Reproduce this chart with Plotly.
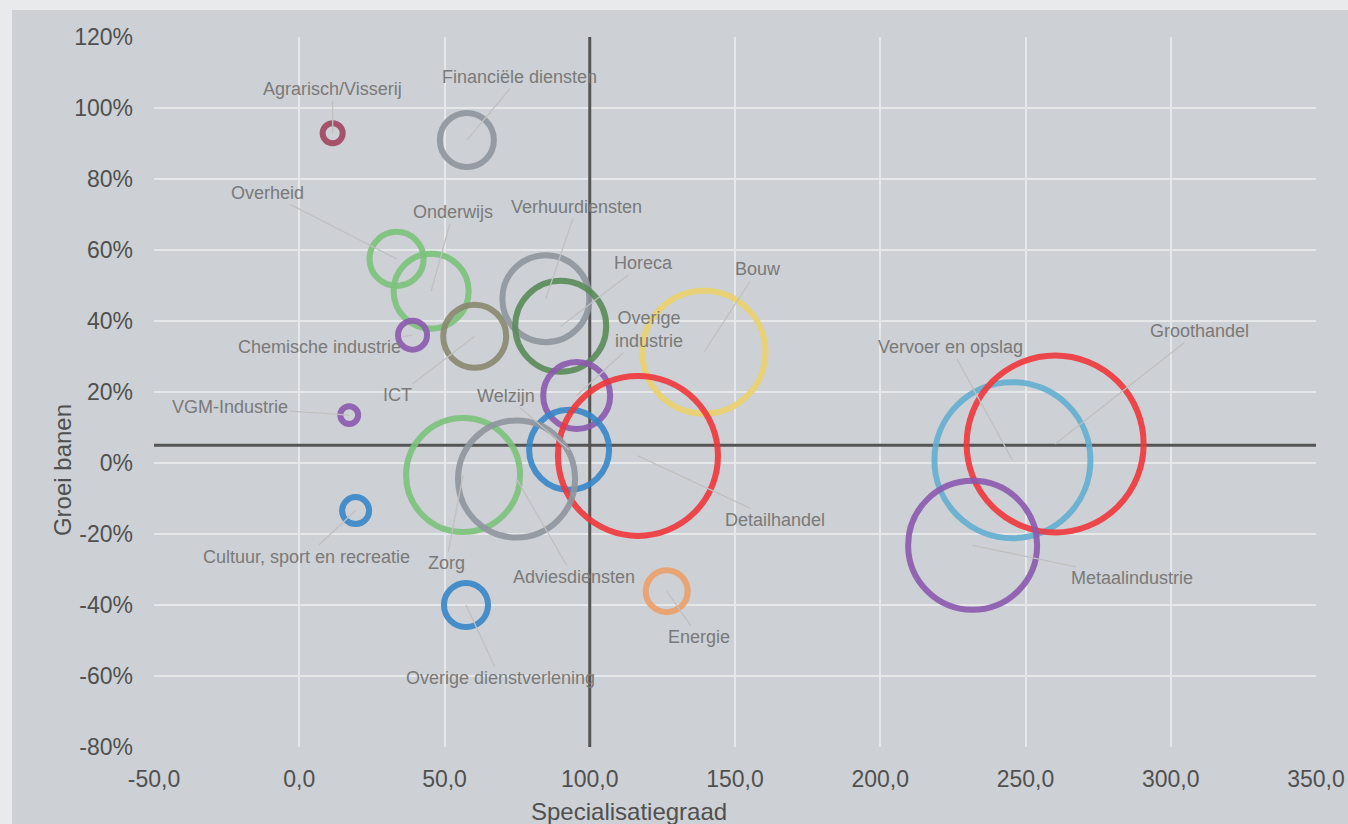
import math
import plotly.graph_objects as go

# ---------------- data ----------------
sectors = [
    "Agrarisch/Visserij", "Financiële diensten", "Overheid", "Onderwijs",
    "Chemische industrie", "ICT", "Verhuurdiensten", "Horeca",
    "Overige<br>industrie", "Welzijn", "Bouw", "Detailhandel", "Zorg",
    "Adviesdiensten", "VGM-Industrie", "Cultuur, sport en recreatie",
    "Overige dienstverlening", "Energie", "Vervoer en opslag",
    "Groothandel", "Metaalindustrie",
]
specialisatiegraad = [11.5, 57.7, 33.5, 45.4, 39.0, 60.4, 84.9, 90.0,
                      95.5, 92.9, 139.3, 116.6, 56.4, 74.8, 17.2, 19.4,
                      57.4, 126.5, 245.5, 260.2, 231.8]
groei_banen = [92.9, 91.0, 57.5, 48.4, 36.0, 35.7, 46.3, 38.5,
               19.0, 3.7, 31.2, 2.0, -3.4, -4.5, 13.5, -13.4,
               -40.0, -36.1, 0.8, 5.35, -23.2]
banen = [4.0, 29.2, 29.2, 56.3, 8.4, 39.7, 75.7, 82.8,
         44.9, 64.0, 151.3, 256.0, 130.0, 136.9, 3.2, 7.3,
         19.4, 17.6, 243.4, 313.3, 166.4]

x_ticks = [-50, 0, 50, 100, 150, 200, 250, 300, 350]
x_ticktext = ["-50,0", "0,0", "50,0", "100,0", "150,0", "200,0", "250,0", "300,0", "350,0"]
y_ticks = [-80, -60, -40, -20, 0, 20, 40, 60, 80, 100, 120]
y_ticktext = ["-80%", "-60%", "-40%", "-20%", "0%", "20%", "40%", "60%", "80%", "100%", "120%"]

ref_x = 100   # specialisatiegraad reference
ref_y = 5     # average job growth reference

# ---------------- styles ----------------
colors = ["#a0465f", "#8f969e", "#7cc27c", "#7cc27c", "#8c5aaf", "#8a8870",
          "#8f969e", "#5a8c5a", "#8c5aaf", "#3787c8", "#ebd26e", "#f0373c",
          "#7cc27c", "#8f969e", "#8c5aaf", "#3787c8", "#3787c8", "#eba069",
          "#64afd2", "#f0373c", "#8c5aaf"]
# label offsets in pixels (text centre relative to bubble centre)
label_dx = [0, 53, -129, 22, -93, -77, 31, 83, 72, -63, 54, 137, -17, 57,
            -119, -49, 34, 32, -62, 144, 159]
label_dy = [-44, -63, -66, -79, 12, 59, -92, -63, -66, -54, -83, 64, 88, 98,
            -8, 46, 73, 46, -113, -113, 33]

SIZE_SCALE = 10.0
sizes = [SIZE_SCALE * math.sqrt(v) for v in banen]

FONT = "Arial, Liberation Sans, Helvetica, sans-serif"
PANEL = "#cdd0d4"
OUTER = "#e9eaec"

fig = go.Figure()
fig.add_trace(go.Scatter(
    x=specialisatiegraad, y=groei_banen, mode="markers",
    text=sectors, hoverinfo="text",
    marker=dict(size=sizes, sizemode="diameter", color="rgba(0,0,0,0)",
                opacity=0.9, line=dict(color=colors, width=6)),
    showlegend=False,
))

annotations = []
for name, xv, yv, dx, dy in zip(sectors, specialisatiegraad, groei_banen, label_dx, label_dy):
    annotations.append(dict(
        x=xv, y=yv, xref="x", yref="y", text=name, showarrow=True,
        arrowhead=0, arrowwidth=1.3, arrowcolor="#c0c0c0", ax=dx, ay=dy,
        standoff=0, startstandoff=0,
        font=dict(family=FONT, size=18, color="#7a7a7a"), align="center",
    ))

annotations.append(dict(text="Specialisatiegraad", xref="paper", yref="paper",
                        x=0.4088, y=-0.0915, showarrow=False, xanchor="center", yanchor="middle",
                        font=dict(family=FONT, size=24, color="#505050")))
annotations.append(dict(text="Groei banen", xref="paper", yref="paper",
                        x=-0.0792, y=0.390, showarrow=False, textangle=-90,
                        xanchor="center", yanchor="middle",
                        font=dict(family=FONT, size=24, color="#505050")))

shapes = [
    dict(type="rect", xref="paper", yref="paper", x0=-0.1222, x1=1.2, y0=-0.2, y1=1.038,
         fillcolor=PANEL, line=dict(width=0), layer="below"),
    dict(type="line", xref="x", yref="y", x0=ref_x, x1=ref_x, y0=-80, y1=120,
         line=dict(color="#555555", width=3), layer="between"),
    dict(type="line", xref="x", yref="y", x0=-50, x1=350, y0=ref_y, y1=ref_y,
         line=dict(color="#555555", width=3), layer="between"),
]

fig.update_layout(
    width=1348, height=824,
    paper_bgcolor=OUTER, plot_bgcolor=PANEL,
    margin=dict(l=154, r=32, t=37, b=77, autoexpand=False),
    font=dict(family=FONT),
    xaxis=dict(range=[-50, 350], tickvals=x_ticks, ticktext=x_ticktext,
               showgrid=True, gridcolor="#e6e7e8", gridwidth=2, zeroline=False,
               showline=False, ticks="", ticklabelstandoff=16, automargin=False,
               ticklabeloverflow="allow",
               tickfont=dict(family=FONT, size=23, color="#505050")),
    yaxis=dict(range=[-80, 120], tickvals=y_ticks, ticktext=y_ticktext,
               showgrid=True, gridcolor="#e6e7e8", gridwidth=2, zeroline=False,
               showline=False, ticks="", ticklabelstandoff=20, automargin=False,
               tickfont=dict(family=FONT, size=23, color="#505050")),
    annotations=annotations, shapes=shapes,
)

fig.write_html("out.html")
